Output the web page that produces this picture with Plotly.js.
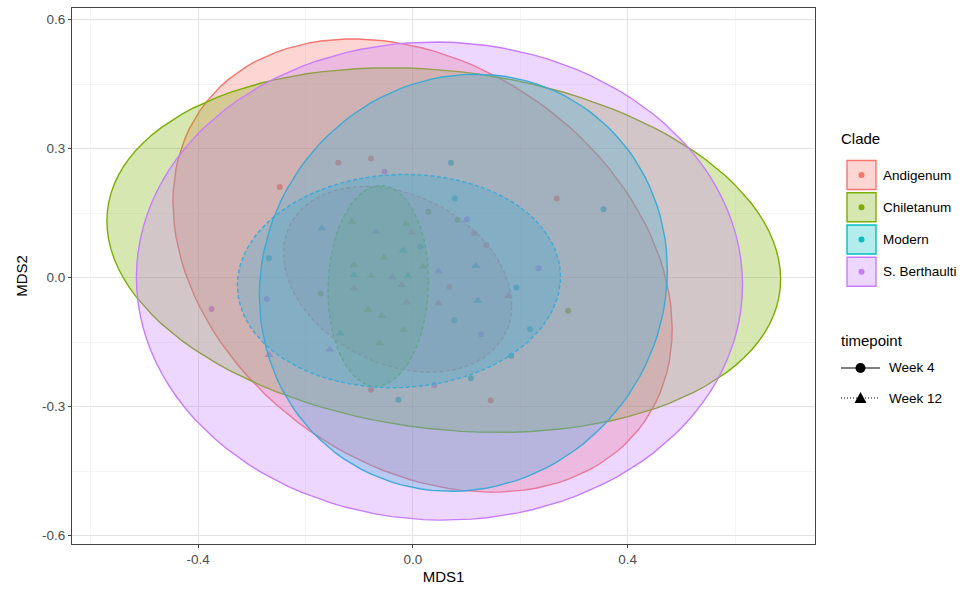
<!DOCTYPE html>
<html>
<head>
<meta charset="utf-8">
<script src="https://cdn.plot.ly/plotly-3.0.1.min.js"></script>
<style>html,body{margin:0;padding:0;background:#fff;}#chart{width:964px;height:592px;}</style>
</head>
<body>
<div id="chart"></div>
<script>
// ---- data ----
const clades = ['Andigenum', 'Chiletanum', 'Modern', 'S.Berthaulti'];
const cladeLabels = ['Andigenum', 'Chiletanum', 'Modern', 'S. Berthaulti'];
const cladeColors = ['#F8766D', '#7CAE00', '#00BFC4', '#C77CFF'];
const timepoints = ['Week 4', 'Week 12'];

// Week 4 points (circles)
const andigenumW4X = [-0.248, -0.139, -0.078, 0.114, 0.137, 0.268, 0.068, -0.078, 0.145];
const andigenumW4Y = [0.211, 0.267, 0.277, 0.103, 0.076, 0.184, -0.021, -0.261, -0.286];
const chiletanumW4X = [0.029, 0.083, -0.172, 0.289];
const chiletanumW4Y = [0.153, 0.134, -0.037, -0.077];
const modernW4X = [-0.268, 0.071, 0.078, 0.355, 0.014, 0.193, 0.077, 0.218, 0.108, -0.027, 0.183];
const modernW4Y = [0.045, 0.267, 0.184, 0.159, 0.072, -0.023, -0.099, -0.120, -0.234, -0.284, -0.182];
const berthaultiW4X = [-0.053, 0.101, 0.234, -0.375, -0.272, 0.127, 0.040];
const berthaultiW4Y = [0.246, 0.136, 0.022, -0.073, -0.050, -0.132, -0.250];

// Week 12 points (triangles)
const andigenumW12X = [-0.002, -0.021, -0.110, -0.012, 0.178, 0.047];
const andigenumW12Y = [0.105, -0.017, -0.025, -0.058, -0.043, -0.060];
const chiletanumW12X = [-0.114, -0.013, -0.054, 0.019, -0.110, -0.078, -0.083, -0.058, -0.017, -0.062];
const chiletanumW12Y = [0.130, 0.125, 0.047, 0.025, 0.029, 0.004, -0.075, -0.089, -0.122, -0.153];
const modernW12X = [-0.170, -0.018, -0.110, -0.009, 0.117, 0.121, -0.135];
const modernW12Y = [0.115, 0.063, 0.006, 0.004, 0.027, -0.054, -0.130];
const berthaultiW12X = [-0.069, -0.038, 0.047, -0.155, -0.268];
const berthaultiW12Y = [0.107, 0.001, 0.014, -0.167, -0.180];

// Ellipse summaries (group order: clade x timepoint)
const ellClade = [0, 0, 1, 1, 2, 2, 3];
const ellTime = [0, 1, 0, 1, 0, 1, 0];
const ellCx = [0.018, -0.0285, 0.0575, -0.0645, 0.094, -0.026, 0.0495];
const ellCy = [0.028, -0.004, 0.064, -0.019, -0.012, -0.008, -0.008];
const ellHalfW = [0.465, 0.2125, 0.6275, 0.0935, 0.38, 0.301, 0.5645];
const ellHalfH = [0.527, 0.216, 0.424, 0.233, 0.485, 0.248, 0.556];
const ellRho = [-0.28, -0.28, -0.16, 0.05, 0.06, 0.04, -0.015];

const xTickVals = [-0.4, 0.0, 0.4];
const xTickText = ['-0.4', '0.0', '0.4'];
const yTickVals = [-0.6, -0.3, 0.0, 0.3, 0.6];
const yTickText = ['-0.6', '-0.3', '0.0', '0.3', '0.6'];

// ---- build ----
function rgba(hex, a) {
  const r = parseInt(hex.slice(1, 3), 16), g = parseInt(hex.slice(3, 5), 16), b = parseInt(hex.slice(5, 7), 16);
  return 'rgba(' + r + ',' + g + ',' + b + ',' + a + ')';
}
const ptsW4 = [[andigenumW4X, andigenumW4Y], [chiletanumW4X, chiletanumW4Y], [modernW4X, modernW4Y], [berthaultiW4X, berthaultiW4Y]];
const ptsW12 = [[andigenumW12X, andigenumW12Y], [chiletanumW12X, chiletanumW12Y], [modernW12X, modernW12Y], [berthaultiW12X, berthaultiW12Y]];

const traces = [];
for (let c = 0; c < 4; c++) {
  traces.push({x: ptsW4[c][0], y: ptsW4[c][1], type: 'scatter', mode: 'markers', showlegend: false,
    marker: {symbol: 'circle', size: 6, color: cladeColors[c]}, hoverinfo: 'x+y'});
  traces.push({x: ptsW12[c][0], y: ptsW12[c][1], type: 'scatter', mode: 'markers', showlegend: false,
    marker: {symbol: 'triangle-up', size: 8, color: cladeColors[c]}, hoverinfo: 'x+y'});
}
const N = 120;
for (let e = 0; e < ellCx.length; e++) {
  const phi = Math.acos(ellRho[e]);
  const ex = [], ey = [];
  for (let i = 0; i <= N; i++) {
    const t = 2 * Math.PI * i / N;
    ex.push(ellCx[e] + ellHalfW[e] * Math.cos(t));
    ey.push(ellCy[e] + ellHalfH[e] * Math.cos(t - phi));
  }
  const col = cladeColors[ellClade[e]];
  traces.push({x: ex, y: ey, type: 'scatter', mode: 'lines', fill: 'toself', showlegend: false,
    fillcolor: rgba(col, 0.3), hoverinfo: 'skip',
    line: {color: col, width: 1.4, dash: ellTime[e] === 0 ? 'solid' : '4px,2.5px'}});
}

// plot area geometry (px)
const L = 72, T = 8, PW = 743, PH = 536;
const px = v => (v - L) / PW;
const py = v => (T + PH - v) / PH;

const shapes = [], annotations = [];
const fontFam = 'Liberation Sans, Arial, Helvetica, sans-serif';
annotations.push({xref: 'paper', yref: 'paper', x: px(839), y: py(138), xanchor: 'left', yanchor: 'middle',
  text: 'Clade', showarrow: false, font: {family: fontFam, size: 15, color: '#000'}});
const keyY = [175, 207.3, 239.5, 271.7];
for (let c = 0; c < 4; c++) {
  shapes.push({type: 'rect', xref: 'paper', yref: 'paper', x0: px(847), x1: px(876), y0: py(keyY[c] + 14.5), y1: py(keyY[c] - 14.5),
    fillcolor: rgba(cladeColors[c], 0.3), line: {color: cladeColors[c], width: 1.4}});
  shapes.push({type: 'circle', xref: 'paper', yref: 'paper', xsizemode: 'pixel', ysizemode: 'pixel',
    xanchor: px(861.5), yanchor: py(keyY[c]), x0: -3, x1: 3, y0: -3, y1: 3,
    fillcolor: cladeColors[c], line: {width: 0}});
  annotations.push({xref: 'paper', yref: 'paper', x: px(881), y: py(keyY[c]), xanchor: 'left', yanchor: 'middle',
    text: cladeLabels[c], showarrow: false, font: {family: fontFam, size: 13.5, color: '#000'}});
}
annotations.push({xref: 'paper', yref: 'paper', x: px(839), y: py(341), xanchor: 'left', yanchor: 'middle',
  text: 'timepoint', showarrow: false, font: {family: fontFam, size: 15, color: '#000'}});
const tpY = [368, 398];
for (let k = 0; k < 2; k++) {
  shapes.push({type: 'line', xref: 'paper', yref: 'paper', x0: px(841), x1: px(880), y0: py(tpY[k]), y1: py(tpY[k]),
    line: {color: '#000', width: 1, dash: k === 0 ? 'solid' : '1px,2px'}});
  if (k === 0) {
    shapes.push({type: 'circle', xref: 'paper', yref: 'paper', xsizemode: 'pixel', ysizemode: 'pixel',
      xanchor: px(860.5), yanchor: py(tpY[k]), x0: -5, x1: 5, y0: -5, y1: 5, fillcolor: '#000', line: {width: 0}});
  } else {
    shapes.push({type: 'path', xref: 'paper', yref: 'paper', xsizemode: 'pixel', ysizemode: 'pixel',
      xanchor: px(860.5), yanchor: py(tpY[k]), path: 'M-6,-5L6,-5L0,6Z', fillcolor: '#000', line: {width: 0}});
  }
  annotations.push({xref: 'paper', yref: 'paper', x: px(887), y: py(tpY[k]), xanchor: 'left', yanchor: 'middle',
    text: timepoints[k], showarrow: false, font: {family: fontFam, size: 13.5, color: '#000'}});
}

const layout = {
  width: 964, height: 592,
  margin: {l: L, r: 964 - L - PW, t: T, b: 592 - T - PH},
  paper_bgcolor: '#fff', plot_bgcolor: '#fff',
  showlegend: false,
  font: {family: fontFam},
  xaxis: {range: [-0.635, 0.749], tickmode: 'array', tickvals: xTickVals, ticktext: xTickText,
    showgrid: true, gridcolor: '#E3E3E3', gridwidth: 1, zeroline: false,
    minor: {tickmode: 'array', tickvals: [-0.6, -0.2, 0.2, 0.6], showgrid: true, gridcolor: '#EEEEEE', gridwidth: 0.6, ticks: ''},
    showline: true, mirror: true, linecolor: '#444444', linewidth: 1,
    ticks: 'outside', ticklen: 3, tickcolor: '#444444', tickwidth: 1,
    tickfont: {family: fontFam, size: 13.5, color: '#4D4D4D'},
    title: {text: 'MDS1', font: {family: fontFam, size: 15, color: '#000'}, standoff: 5}},
  yaxis: {range: [-0.6195, 0.627], tickmode: 'array', tickvals: yTickVals, ticktext: yTickText,
    showgrid: true, gridcolor: '#E3E3E3', gridwidth: 1, zeroline: false,
    minor: {tickmode: 'array', tickvals: [-0.45, -0.15, 0.15, 0.45], showgrid: true, gridcolor: '#EEEEEE', gridwidth: 0.6, ticks: ''},
    showline: true, mirror: true, linecolor: '#444444', linewidth: 1,
    ticks: 'outside', ticklen: 3, tickcolor: '#444444', tickwidth: 1,
    tickfont: {family: fontFam, size: 13.5, color: '#4D4D4D'},
    title: {text: 'MDS2', font: {family: fontFam, size: 15, color: '#000'}, standoff: 10}},
  shapes: shapes,
  annotations: annotations
};
Plotly.newPlot('chart', traces, layout, {staticPlot: true, displayModeBar: false});
</script>
</body>
</html>
